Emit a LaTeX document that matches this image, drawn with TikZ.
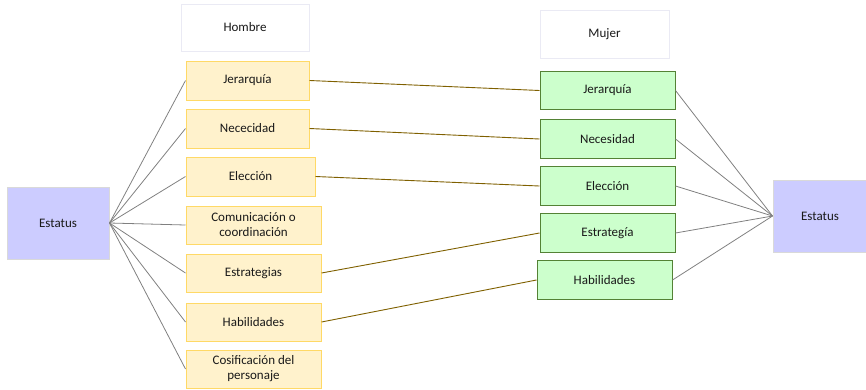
\documentclass[tikz,border=0pt]{standalone}
\usepackage{fontspec}
\setmainfont{Carlito}
\definecolor{yfill}{HTML}{FFF2CC}
\definecolor{ydraw}{HTML}{FFD966}
\definecolor{gfill}{HTML}{CCFFCC}
\definecolor{gdraw}{HTML}{548235}
\definecolor{pfill}{HTML}{CCCCFF}
\definecolor{pdraw}{HTML}{D9D9D9}
\definecolor{hdraw}{HTML}{EAEAF4}
\definecolor{linkc}{HTML}{7F6000}
\definecolor{grayc}{HTML}{808080}
\begin{document}
\begin{tikzpicture}[x=1pt,y=-1pt,
  every node/.style={font=\fontsize{13}{15}\selectfont, inner sep=0pt, align=center, text=black!90},
  hbox/.style={draw=ydraw, fill=yfill, line width=1pt, rectangle, minimum height=39pt},
  mbox/.style={draw=gdraw, fill=gfill, line width=1pt, rectangle, minimum height=38.5pt},
  sbox/.style={draw=pdraw, fill=pfill, line width=1pt, rectangle, minimum width=102pt, minimum height=72pt},
  title/.style={draw=hdraw, fill=white, line width=1pt, rectangle, minimum height=47pt},
  spoke/.style={draw=grayc, line width=0.8pt},
  link/.style={draw=linkc, line width=0.9pt}]
\useasboundingbox (0,0) rectangle (866,389);
\node[title, minimum width=128pt] (hom) at (245,27.5) {Hombre};
\node[title, minimum width=129pt, minimum height=48pt] (muj) at (604.5,34) {Mujer};
\node[sbox] (el) at (58,223) {Estatus};
\node[hbox, minimum width=123pt] (hj) at (247.5,80.5) {Jerarquía};
\node[hbox, minimum width=123pt] (hn) at (247.5,128.5) {Nececidad};
\node[hbox, minimum width=129pt] (he) at (250.5,176.5) {Elección};
\node[hbox, minimum width=135pt, minimum height=38pt] (hc) at (253.5,225) {Comunicación o\\coordinación};
\node[hbox, minimum width=135pt, minimum height=38pt] (hs) at (253.5,273) {Estrategias};
\node[hbox, minimum width=135pt, minimum height=38pt] (hh) at (253.5,322) {Habilidades};
\node[hbox, minimum width=135pt, minimum height=38pt] (hk) at (253.5,369) {Cosificación del\\personaje};
\node[mbox, minimum width=135pt] (mj) at (607.5,90.5) {Jerarquía};
\node[mbox, minimum width=135pt] (mn) at (607.5,139) {Necesidad};
\node[mbox, minimum width=135pt] (me) at (607.5,186) {Elección};
\node[mbox, minimum width=135pt] (ms) at (607.5,233) {Estrategía};
\node[mbox, minimum width=135pt] (mh) at (604.5,280) {Habilidades};
\node[sbox, minimum width=94pt] (er) at (820,216) {Estatus};
\foreach \n in {hj,hn,he,hc,hs,hh,hk} \draw[spoke] (el.east) -- (\n.west);
\foreach \n in {mj,mn,me,ms,mh} \draw[spoke] (\n.east) -- (er.west);
\draw[link] (hj.east) -- (mj.west);
\draw[link] (hn.east) -- (mn.west);
\draw[link] (he.east) -- (me.west);
\draw[link] (hs.east) -- (ms.west);
\draw[link] (hh.east) -- (mh.west);
\end{tikzpicture}
\end{document}
